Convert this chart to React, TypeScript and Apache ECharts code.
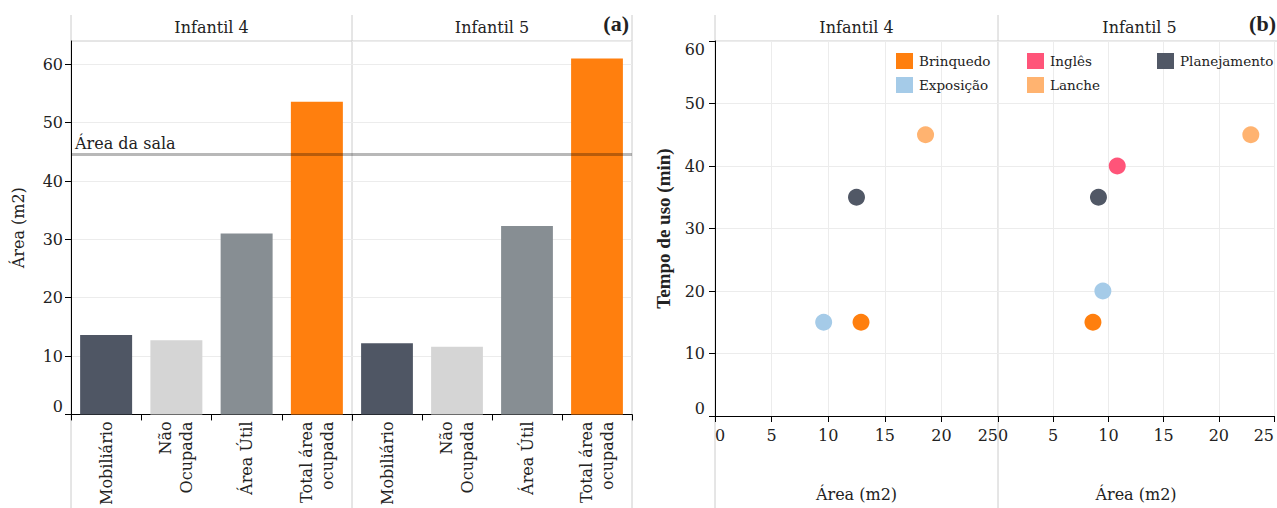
import React, { useEffect, useRef } from 'react';
import * as echarts from 'echarts';

// ---------- data ----------
const panels = ['Infantil 4', 'Infantil 5'];
const barCategories = ['Mobiliário', 'Não\nOcupada', 'Área Útil', 'Total área\nocupada'];
const barValuesI4 = [13.6, 12.7, 31.0, 53.6];
const barValuesI5 = [12.2, 11.6, 32.3, 61.0];
const areaDaSala = 44.6;
const areaTickValues = [0, 10, 20, 30, 40, 50, 60];

const activities = ['Brinquedo', 'Exposição', 'Inglês', 'Lanche', 'Planejamento'];
const areaI4: (number | null)[] = [12.9, 9.6, null, 18.6, 12.5];
const tempoI4: (number | null)[] = [15, 15, null, 45, 35];
const areaI5: (number | null)[] = [8.6, 9.5, 10.8, 22.9, 9.1];
const tempoI5: (number | null)[] = [15, 20, 40, 45, 35];

// ---------- style ----------
const barColors = ['#4f5664', '#d5d5d5', '#878e93', '#ff7f0e'];
const activityColors = ['#ff7f0e', '#a5cbe8', '#ff5479', '#ffb370', '#515866'];
const SERIF = 'DejaVu Serif';
const TIMES = 'Liberation Serif';
const TXT = '#222';
const FRAME = '#cccccc';
const GRIDLINE = '#ececec';

// layout
const TOP = 41;
const HEAD_TOP = 15;
const PLOT_H = 375;
const BOTTOM_EDGE = 508;
const A_LEFT = 71, A_W1 = 281, A_W2 = 280;
const B_LEFT = 715, B_W = 283;
const grids = [
  { left: A_LEFT, top: TOP, width: A_W1, height: PLOT_H },
  { left: A_LEFT + A_W1, top: TOP, width: A_W2, height: PLOT_H },
  { left: B_LEFT, top: TOP, width: B_W, height: PLOT_H },
  { left: B_LEFT + B_W, top: TOP, width: B_W, height: PLOT_H },
];

function buildOption() {
  const axisLineBlack = { show: true, lineStyle: { color: '#000', width: 1 } };
  const tickBlack = { show: true, length: 6, lineStyle: { color: '#000' } };
  const labelBase = { fontFamily: SERIF, fontSize: 16, color: TXT };

  const catAxis = (gi: number) => ({
    type: 'category',
    gridIndex: gi,
    data: barCategories,
    boundaryGap: true,
    axisLine: axisLineBlack,
    axisTick: { ...tickBlack, interval: 0 },
    axisLabel: { ...labelBase, rotate: 90, interval: 0, margin: 7, lineHeight: 21 },
    splitLine: { show: false },
  });

  const scatterX = (gi: number) => ({
    type: 'value',
    gridIndex: gi,
    min: 0,
    max: 25,
    interval: 5,
    name: 'Área (m2)',
    nameLocation: 'middle',
    nameGap: 70,
    nameTextStyle: { fontFamily: SERIF, fontSize: 16, color: TXT },
    axisLine: axisLineBlack,
    axisTick: tickBlack,
    axisLabel: { ...labelBase, margin: 11, alignMinLabel: 'left', alignMaxLabel: 'right' },
    splitLine: { show: true, lineStyle: { color: GRIDLINE } },
  });

  const barSeries = (gi: number, vals: number[], withLabel: boolean) => ({
    type: 'bar',
    xAxisIndex: gi,
    yAxisIndex: gi,
    barCategoryGap: '26%',
    data: vals.map((v, i) => ({ value: v, itemStyle: { color: barColors[i] } })),
    markLine: {
      silent: true,
      symbol: 'none',
      lineStyle: { color: 'rgba(0,0,0,0.28)', width: 3, type: 'solid' },
      label: {
        show: withLabel,
        position: 'insideStartTop',
        formatter: 'Área da sala',
        fontFamily: SERIF,
        fontSize: 16,
        color: TXT,
        opacity: 1,
        distance: [4, 3],
      },
      emphasis: { disabled: true },
      data: [{ yAxis: areaDaSala }],
    },
  });

  const scatterSeries: any[] = [];
  const sets: [(number | null)[], (number | null)[], number][] = [
    [areaI4, tempoI4, 2],
    [areaI5, tempoI5, 3],
  ];
  sets.forEach(([xs, ys, gi]) => {
    activities.forEach((name, i) => {
      const x = xs[i];
      const y = ys[i];
      if (x == null || y == null) return;
      scatterSeries.push({
        type: 'scatter',
        name,
        xAxisIndex: gi,
        yAxisIndex: gi,
        symbol: 'circle',
        symbolSize: 17,
        itemStyle: { color: activityColors[i], opacity: 1 },
        data: [[x, y]],
      });
    });
  });

  const legendBase = {
    orient: 'vertical',
    top: 48,
    icon: 'rect',
    itemWidth: 17,
    itemHeight: 16,
    itemGap: 8,
    selectedMode: false,
    textStyle: { fontFamily: SERIF, fontSize: 13.5, color: TXT, padding: [0, 0, 0, 1] },
  };

  const lineEl = (x1: number, y1: number, x2: number, y2: number) => ({
    type: 'line',
    silent: true,
    z: -1,
    shape: { x1, y1, x2, y2 },
    style: { stroke: FRAME, lineWidth: 1 },
  });
  const textEl = (x: number, y: number, text: string, font: string, align = 'center') => ({
    type: 'text',
    x,
    y,
    silent: true,
    style: {
      text,
      font,
      fill: TXT,
      textAlign: align,
      textVerticalAlign: 'middle',
      align,
      verticalAlign: 'middle',
    },
  });

  const aRight = A_LEFT + A_W1 + A_W2;
  const bRight = B_LEFT + 2 * B_W;

  return {
    animation: false,
    backgroundColor: '#fff',
    grid: grids,
    legend: [
      { ...legendBase, left: 891, data: [activities[0], activities[1]] },
      { ...legendBase, left: 1022, data: [activities[2], activities[3]] },
      { ...legendBase, left: 1152, data: [activities[4]] },
    ],
    xAxis: [catAxis(0), catAxis(1), scatterX(2), scatterX(3)],
    yAxis: [
      {
        type: 'value',
        gridIndex: 0,
        min: 0,
        max: 64,
        interval: 10,
        name: 'Área (m2)',
        nameLocation: 'middle',
        nameGap: 45,
        nameTextStyle: { fontFamily: SERIF, fontSize: 16, color: TXT },
        axisLine: axisLineBlack,
        axisTick: { ...tickBlack, customValues: areaTickValues },
        axisLabel: {
          ...labelBase,
          margin: 8,
          customValues: areaTickValues,
          formatter: (v: number) => (v % 10 === 0 ? String(v) : ''),
          verticalAlignMinLabel: 'bottom',
        },
        splitLine: { show: true, lineStyle: { color: GRIDLINE } },
      },
      {
        type: 'value',
        gridIndex: 1,
        min: 0,
        max: 64,
        interval: 10,
        axisLine: { show: false },
        axisTick: { show: false },
        axisLabel: { show: false },
        splitLine: { show: true, lineStyle: { color: GRIDLINE } },
      },
      {
        type: 'value',
        gridIndex: 2,
        min: 0,
        max: 60,
        interval: 10,
        name: 'Tempo de uso (min)',
        nameLocation: 'middle',
        nameGap: 42,
        nameTextStyle: { fontFamily: TIMES, fontSize: 19, fontWeight: 'bold', color: TXT },
        axisLine: axisLineBlack,
        axisTick: tickBlack,
        axisLabel: {
          ...labelBase,
          margin: 10,
          verticalAlignMinLabel: 'bottom',
          verticalAlignMaxLabel: 'top',
        },
        splitLine: { show: true, lineStyle: { color: GRIDLINE } },
      },
      {
        type: 'value',
        gridIndex: 3,
        min: 0,
        max: 60,
        interval: 10,
        axisLine: { show: false },
        axisTick: { show: false },
        axisLabel: { show: false },
        splitLine: { show: true, lineStyle: { color: GRIDLINE } },
      },
    ],
    series: [
      barSeries(0, barValuesI4, true),
      barSeries(1, barValuesI5, false),
      ...scatterSeries,
    ],
    graphic: [
      // panel (a) frame
      lineEl(A_LEFT, HEAD_TOP, A_LEFT, BOTTOM_EDGE),
      lineEl(A_LEFT + A_W1, HEAD_TOP, A_LEFT + A_W1, BOTTOM_EDGE),
      lineEl(aRight, HEAD_TOP, aRight, BOTTOM_EDGE),
      lineEl(A_LEFT, TOP, aRight, TOP),
      // panel (b) frame
      lineEl(B_LEFT, HEAD_TOP, B_LEFT, BOTTOM_EDGE),
      lineEl(B_LEFT + B_W, HEAD_TOP, B_LEFT + B_W, BOTTOM_EDGE),
      lineEl(B_LEFT, TOP, bRight, TOP),
      // headers
      textEl(A_LEFT + A_W1 / 2, 27, panels[0], `16px "${SERIF}"`),
      textEl(A_LEFT + A_W1 + A_W2 / 2, 27, panels[1], `16px "${SERIF}"`),
      textEl(B_LEFT + B_W / 2, 27, panels[0], `16px "${SERIF}"`),
      textEl(B_LEFT + B_W + B_W / 2, 27, panels[1], `16px "${SERIF}"`),
      textEl(629, 23, '(a)', `bold 22px "${TIMES}"`, 'right'),
      textEl(1276, 23, '(b)', `bold 22px "${TIMES}"`, 'right'),
    ],
  };
}

export default function App() {
  const ref = useRef<HTMLDivElement>(null);
  useEffect(() => {
    if (!ref.current) return;
    const chart = echarts.init(ref.current, null, { renderer: 'svg' });
    chart.setOption(buildOption() as any);
    return () => chart.dispose();
  }, []);
  return (
    <div
      ref={ref}
      style={{ position: 'absolute', left: 0, top: 0, width: 1277, height: 508, background: '#fff' }}
    />
  );
}
